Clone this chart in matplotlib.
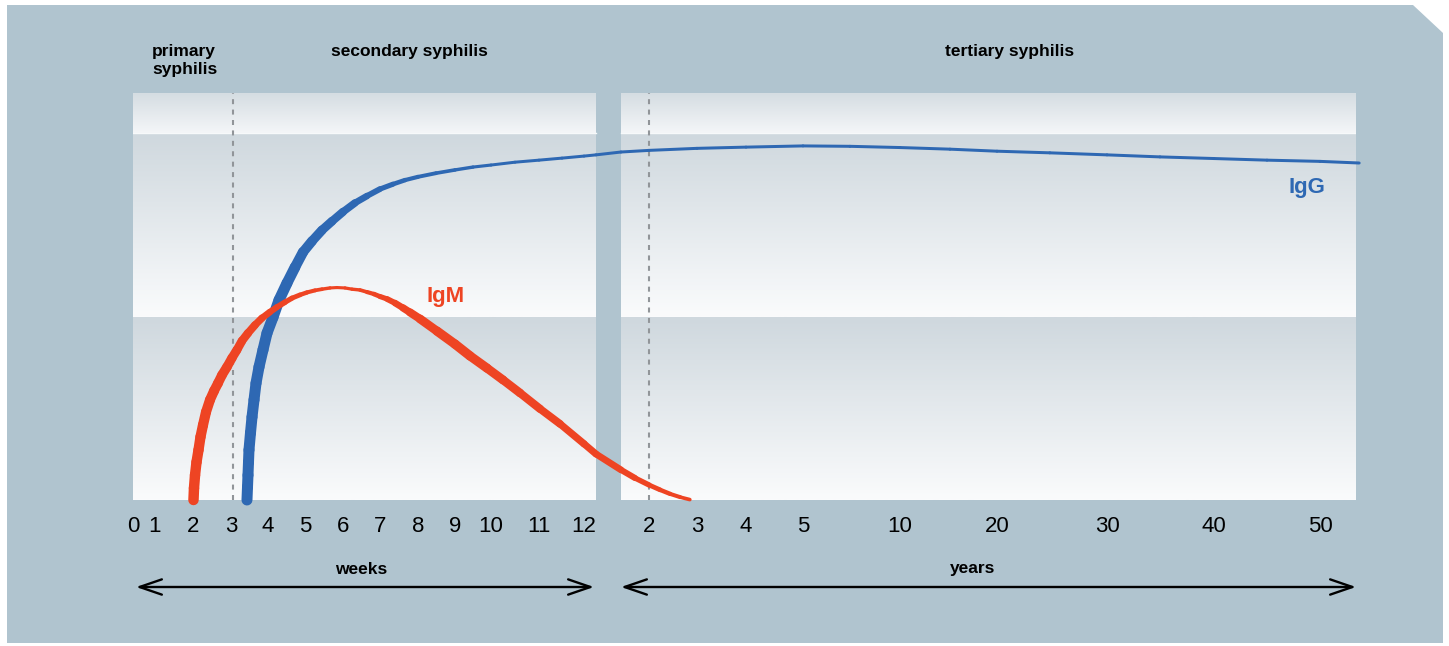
import numpy as np
import matplotlib
matplotlib.use("Agg")
import matplotlib.pyplot as plt
from matplotlib.collections import LineCollection
from matplotlib.patches import Polygon

W, H = 1449, 646

# tick labels
week_ticks = [0, 1, 2, 3, 4, 5, 6, 7, 8, 9, 10, 11, 12]
year_ticks = [2, 3, 4, 5, 10, 20, 30, 40, 50]

# IgM titre (0-100), first in weeks then in years
igm_weeks = [2.013, 2.026, 2.053, 2.092, 2.145, 2.197, 2.263, 2.342, 2.447, 2.553,
             2.658, 2.763, 2.895, 3.027, 3.162, 3.297, 3.459, 3.649, 3.838, 4.054,
             4.243, 4.459, 4.649, 4.865, 5.053, 5.263, 5.447, 5.658, 5.842, 6.054,
             6.243, 6.459, 6.649, 6.838, 7.000, 7.184, 7.395, 7.605, 7.789, 8.054,
             8.514, 9.000, 9.417, 9.889, 10.25, 10.604, 11.022, 11.467, 12.0, 12.27]
igm_weeks_level = [0, 2.9, 6.1, 9.3, 12.3, 15.5, 18.4, 21.6, 24.6, 26.8,
                   28.7, 30.7, 32.7, 34.9, 36.9, 39.1, 41.0, 43.0, 44.7, 46.2,
                   47.4, 48.6, 49.6, 50.4, 51.0, 51.5, 51.8, 52.1, 52.2, 52.1,
                   51.8, 51.6, 51.1, 50.6, 50.0, 49.4, 48.4, 47.2, 46.1, 44.5,
                   41.5, 38.3, 35.4, 32.4, 29.5, 26.3, 22.4, 18.7, 13.8, 11.3]
igm_years = [1.42, 1.71, 2.0, 2.23, 2.44, 2.65, 2.85]
igm_years_level = [7.4, 5.4, 3.7, 2.5, 1.5, 0.7, 0.1]

# IgG titre (0-100)
igg_weeks = [3.432, 3.446, 3.459, 3.473, 3.486, 3.527, 3.568, 3.622, 3.676, 3.757,
             3.865, 3.973, 4.135, 4.297, 4.514, 4.730, 4.946, 5.184, 5.447, 5.711,
             6.0, 6.324, 6.649, 7.0, 7.342, 7.658, 8.0, 8.486, 9.0, 9.5,
             10.0, 10.5, 11.0, 11.511, 12.0, 12.27]
igg_weeks_level = [0, 3.2, 6.1, 9.3, 12.3, 16.5, 20.4, 24.6, 28.7, 32.7,
                   36.9, 41.0, 44.9, 49.1, 53.3, 57.2, 60.9, 63.6, 66.3, 68.5,
                   70.8, 73.0, 74.7, 76.4, 77.6, 78.6, 79.4, 80.3, 81.1, 81.8,
                   82.3, 83.0, 83.5, 84.0, 84.5, 84.8]
igg_years = [1.42, 2, 3, 4, 5, 7.42, 10, 15.15, 20, 24.8, 30, 34.95, 40, 45, 50, 53.7]
igg_years_level = [85.5, 85.9, 86.4, 86.7, 87.0, 86.9, 86.6, 86.2, 85.7, 85.3,
                   84.8, 84.3, 83.9, 83.5, 83.2, 82.8]

red = "#ee4423"
blue = "#2e68b3"
bg_col = "#b0c4cf"

# time axis in weeks, stretched to the printed tick spacing
anchor_t = ([-10] + week_ticks + [12.27, 1.42 * 52] + [y * 52 for y in year_ticks]
            + [53.4 * 52, 60 * 52])
anchor_px = [-87, 133, 155, 193, 231, 268, 305, 343, 380, 418, 455, 491, 539, 584,
             596, 621, 649, 697, 746, 803, 900, 997, 1107, 1214, 1320, 1356, 1426]


def fwd(t):
    return np.interp(t, anchor_t, anchor_px)


def inv(p):
    return np.interp(p, anchor_px, anchor_t)


def fx(x):
    return x / W


def fy(y):
    return 1 - y / H


fig = plt.figure(figsize=(W / 100, H / 100), dpi=100, facecolor="white")

# outer panel with the cut corner
corner = [(7, 5), (1413, 5), (1443, 33), (1443, 643), (7, 643)]
fig.add_artist(Polygon([(fx(a), fy(b)) for a, b in corner], closed=True,
                       transform=fig.transFigure, facecolor=bg_col,
                       edgecolor="none", zorder=0))

rect = [fx(133), fy(500), 1223 / W, 407 / H]

# gradient bands behind the curves
bg = fig.add_axes(rect, zorder=1)
bg.set_xlim(0, 1)
bg.set_ylim(0, 1)
bg.axis("off")
panels = [(0, (596 - 133) / 1223), ((621 - 133) / 1223, 1)]
y_top = (500 - 133) / 407
y_mid = (500 - 317) / 407
bands = [(y_top, 1.0, "#d5dde2", "#f4f6f8"),
         (y_mid, y_top, "#cfd8de", "#fafbfc"),
         (0.0, y_mid, "#cfd8de", "#fafbfc")]
for x0, x1 in panels:
    for y0, y1, c_top, c_bot in bands:
        a = np.array(matplotlib.colors.to_rgb(c_top))
        b = np.array(matplotlib.colors.to_rgb(c_bot))
        f = np.linspace(0, 1, 64)[:, None]
        grad = (a * (1 - f) + b * f)[:, None, :]
        bg.imshow(grad, extent=(x0, x1, y0, y1), aspect="auto",
                  interpolation="bilinear", origin="upper")
    bg.plot([x0, x1], [y_top, y_top], color="#f7f9fa", lw=1)

ax = fig.add_axes(rect, zorder=2)
ax.patch.set_alpha(0)
ax.set_xscale("function", functions=(fwd, inv))
for s in ax.spines.values():
    s.set_visible(False)
ax.set_yticks([])

# dashed stage markers
ax.axvline(3.05, color="#919599", lw=1.5, dashes=(2.4, 2.6), zorder=1)
ax.axvline(2 * 52, color="#919599", lw=1.5, dashes=(2.4, 2.6), zorder=1)


def thick_curve(t, v, w_t, w_px, color):
    # stroke width eases between a few control times
    t = np.asarray(t, dtype=float)
    w = np.interp(t, w_t, w_px)
    pts = np.column_stack([t, v])
    segs = np.stack([pts[:-1], pts[1:]], axis=1)
    lw = (w[:-1] + w[1:]) / 2 * 0.72
    lc = LineCollection(segs, linewidths=lw, colors=color, capstyle="round",
                        joinstyle="round", clip_on=False, zorder=3)
    ax.add_collection(lc)


igg_t = np.concatenate([igg_weeks, np.array(igg_years) * 52])
igg_v = np.concatenate([igg_weeks_level, igg_years_level])
igm_t = np.concatenate([igm_weeks, np.array(igm_years) * 52])
igm_v = np.concatenate([igm_weeks_level, igm_years_level])

thick_curve(igg_t, igg_v,
            [3.4, 4.5, 5.0, 5.5, 6.0, 6.5, 7.0, 7.5, 8.0, 9.0, 10.0, 12.0],
            [11, 11, 10, 9, 8, 6.5, 5.5, 4.5, 4, 3.5, 3, 3], blue)
thick_curve(igm_t, igm_v,
            [2.0, 2.9, 3.5, 4.2, 4.9, 5.8, 6.5, 7.2, 8.0, 9.0, 10.0, 11.0, 12.0,
             73.8, 104, 148],
            [10.5, 9.5, 8, 6, 4.5, 3, 3.5, 5.5, 8.5, 9.5, 9, 8, 7, 6.5, 5, 3.5], red)

ax.set_xlim(0, 53.4 * 52)
ax.set_ylim(0, 100)

ticks = week_ticks + [y * 52 for y in year_ticks]
labels = [str(v) for v in week_ticks] + [str(v) for v in year_ticks]
ax.set_xticks(ticks)
ax.set_xticklabels(labels, fontsize=16, family="Liberation Sans")
ax.tick_params(axis="x", length=0, pad=11.5)
ax.minorticks_off()

bold = dict(family="Liberation Sans", fontweight="bold")

fig.text(fx(152), fy(56), "primary", fontsize=12.5, ha="left", va="baseline", **bold)
fig.text(fx(152), fy(74), "syphilis", fontsize=12.5, ha="left", va="baseline", **bold)
fig.text(fx(409), fy(56), "secondary syphilis", fontsize=12.5, ha="center",
         va="baseline", **bold)
fig.text(fx(1010), fy(56), "tertiary syphilis", fontsize=12.5, ha="center",
         va="baseline", **bold)
fig.text(fx(361), fy(574), "weeks", fontsize=12.5, ha="center", va="baseline", **bold)
fig.text(fx(973), fy(573), "years", fontsize=12.5, ha="center", va="baseline", **bold)

fig.text(fx(446), fy(302), "IgM", fontsize=16, color=red, ha="center",
         va="baseline", **bold)
fig.text(fx(1307), fy(193), "IgG", fontsize=16, color=blue, ha="center",
         va="baseline", **bold)

# double arrows for the two time spans
arrow = dict(arrowstyle="<->,head_length=1.6,head_width=0.55", lw=1.7,
             color="black", shrinkA=0, shrinkB=0, mutation_scale=10)
ax.annotate("", xy=(594, H - 587), xytext=(136, H - 587),
            xycoords="figure pixels", textcoords="figure pixels", arrowprops=arrow)
ax.annotate("", xy=(1356, H - 587), xytext=(621, H - 587),
            xycoords="figure pixels", textcoords="figure pixels", arrowprops=arrow)

fig.savefig("out.png", dpi=100, facecolor="white")
